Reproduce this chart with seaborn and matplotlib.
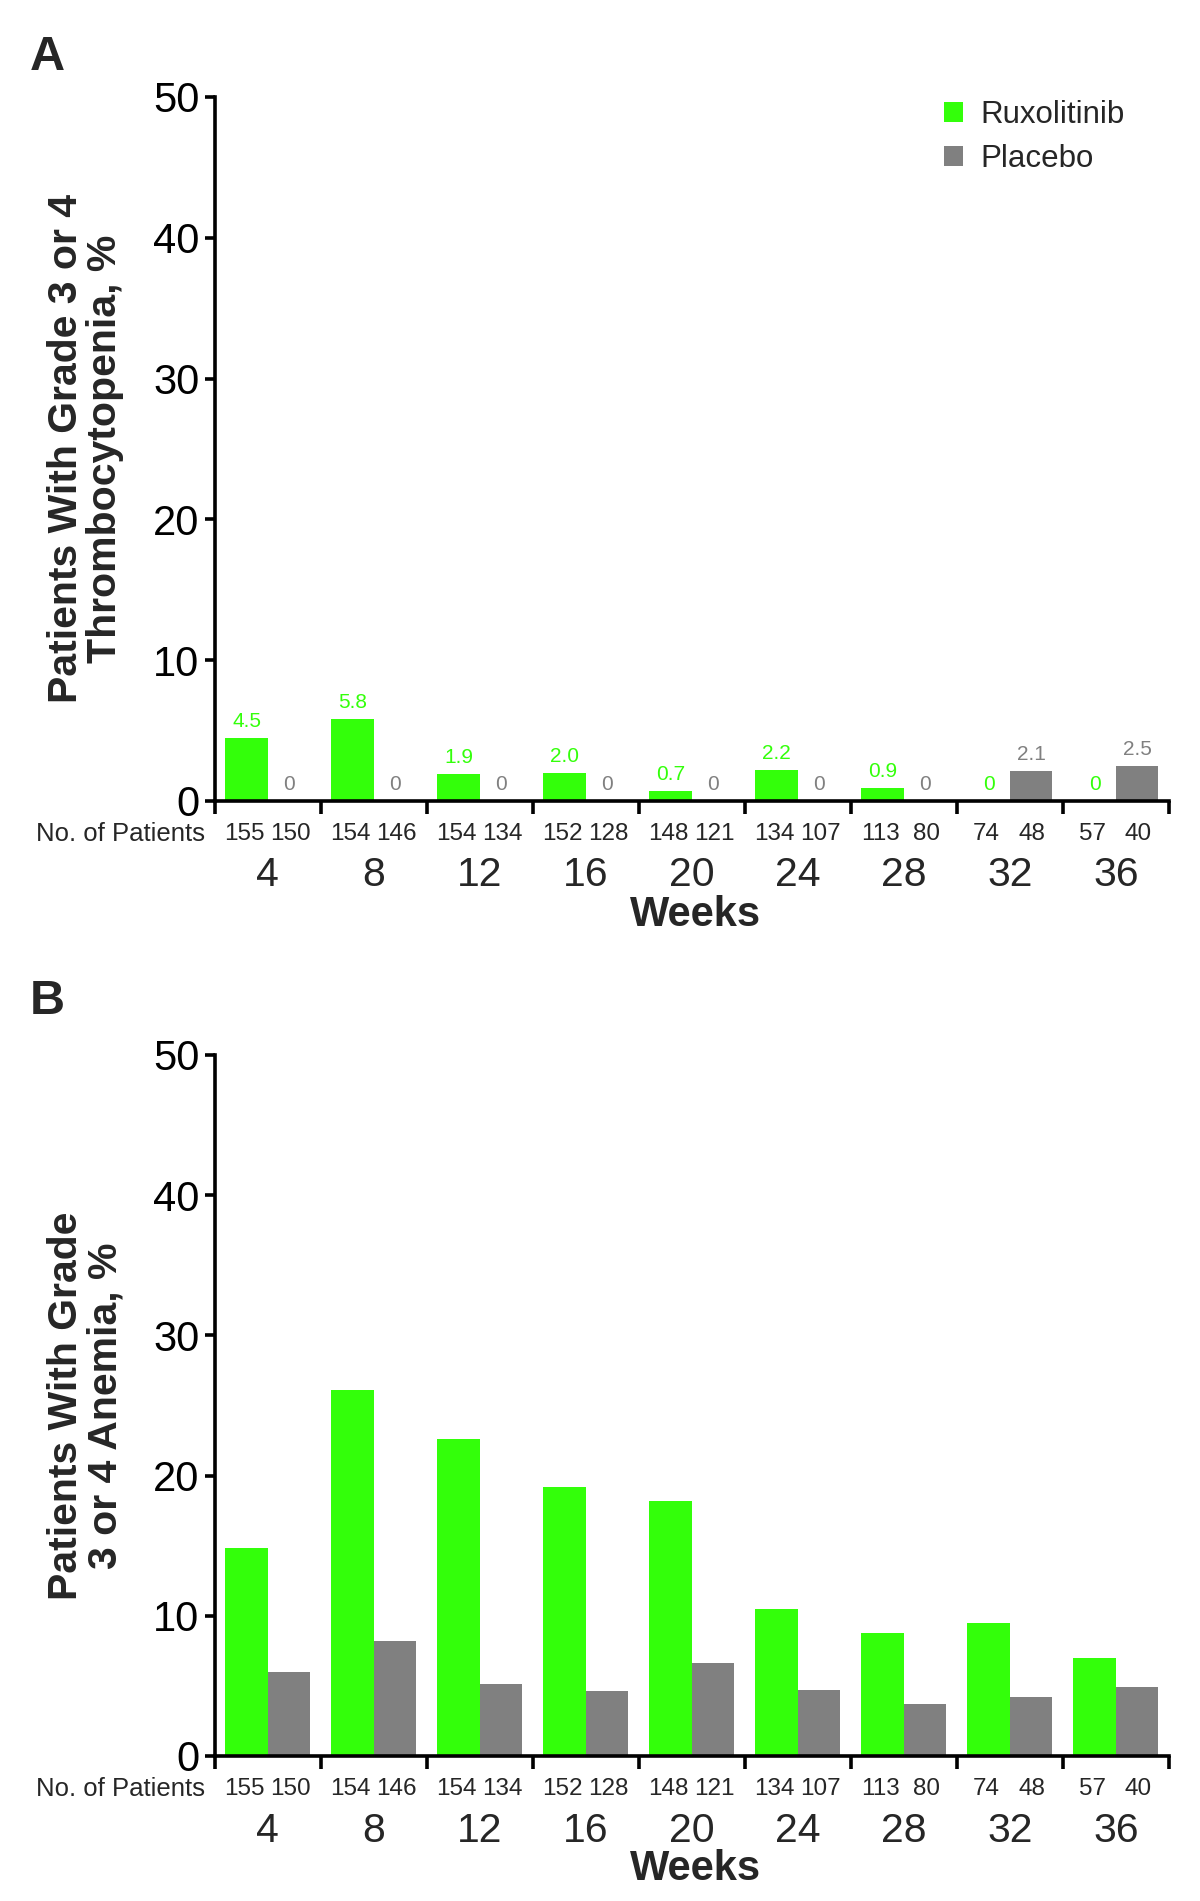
"""
Grade 3/4 thrombocytopenia and anemia by week - ruxolitinib vs placebo
"""

import numpy as np
import pandas as pd
import matplotlib
matplotlib.use('Agg')
import matplotlib.pyplot as plt
import seaborn as sns

# Dados
weeks = ['4', '8', '12', '16', '20', '24', '28', '32', '36']
arms = ['Ruxolitinib', 'Placebo']

n_ruxo = [155, 154, 154, 152, 148, 134, 113, 74, 57]
n_placebo = [150, 146, 134, 128, 121, 107, 80, 48, 40]

thrombo_ruxo = [4.5, 5.8, 1.9, 2.0, 0.7, 2.2, 0.9, 0, 0]
thrombo_placebo = [0, 0, 0, 0, 0, 0, 0, 2.1, 2.5]

anemia_ruxo = [14.8, 26.1, 22.6, 19.2, 18.2, 10.5, 8.8, 9.5, 7.0]
anemia_placebo = [6.0, 8.2, 5.1, 4.6, 6.6, 4.7, 3.7, 4.2, 4.9]

GREEN = '#33FF0A'
GRAY = '#808080'

sns.set_style('ticks')
plt.rcParams['font.family'] = ['Liberation Sans', 'DejaVu Sans']


def make_frame(ruxo, placebo):
    """Monta o dataframe longo para o seaborn."""
    return pd.DataFrame({
        'week': weeks * 2,
        'arm': [arms[0]] * len(weeks) + [arms[1]] * len(weeks),
        'pct': list(ruxo) + list(placebo),
    })


def fmt(v):
    return '0' if v == 0 else f'{v:.1f}'


def draw_panel(ax, ruxo, placebo, ylabel, letter, letter_y,
               show_values=False, show_legend=False):
    df = make_frame(ruxo, placebo)
    sns.barplot(data=df, x='week', y='pct', hue='arm', order=weeks, hue_order=arms,
                palette=[GREEN, GRAY], width=0.8, saturation=1, errorbar=None,
                linewidth=0, legend=show_legend, ax=ax)

    ax.set_ylim(0, 50)
    ax.set_xlim(-0.5, len(weeks) - 0.5)
    ax.set_yticks(np.arange(0, 51, 10))

    # eixos
    sns.despine(ax=ax)
    for side in ['left', 'bottom']:
        ax.spines[side].set_linewidth(2.6)
        ax.spines[side].set_color('black')

    ax.tick_params(axis='y', length=7, width=2.6, labelsize=30, pad=4, colors='black')
    ax.set_xticks(range(len(weeks)))
    ax.set_xticklabels(weeks)
    ax.tick_params(axis='x', which='major', length=0, labelsize=29.5, pad=40)
    ax.set_xticks(np.arange(-0.5, len(weeks), 1), minor=True)
    ax.tick_params(axis='x', which='minor', length=9, width=2.6, direction='out', color='black')

    ax.set_xlabel('Weeks', fontsize=30, fontweight='bold')
    ax.xaxis.set_label_coords(0.504, -0.133)
    ax.set_ylabel(ylabel, fontsize=29.5, fontweight='bold', linespacing=1.05)
    ax.yaxis.set_label_coords(-0.095, 0.5)

    # numero de pacientes abaixo do eixo
    trans = ax.get_xaxis_transform()
    for i in range(len(weeks)):
        ax.annotate(str(n_ruxo[i]), xy=(i - 0.22, 0), xycoords=trans, xytext=(0, -24),
                    textcoords='offset points', ha='center', va='center', fontsize=17.5)
        ax.annotate(str(n_placebo[i]), xy=(i + 0.21, 0), xycoords=trans, xytext=(0, -24),
                    textcoords='offset points', ha='center', va='center', fontsize=17.5)
    ax.annotate('No. of Patients', xy=(-0.5, 0), xycoords=trans, xytext=(-7, -24),
                textcoords='offset points', ha='right', va='center', fontsize=18.5)

    if show_values:
        ax.bar_label(ax.containers[0], labels=[fmt(v) for v in ruxo],
                     color=GREEN, padding=5, fontsize=15)
        ax.bar_label(ax.containers[1], labels=[fmt(v) for v in placebo],
                     color=GRAY, padding=5, fontsize=15)

    if show_legend:
        handles, labels = ax.get_legend_handles_labels()
        ax.legend(handles, labels, loc='upper left', frameon=False, fontsize=22.5,
                  handlelength=0.62, handleheight=0.62, handletextpad=0.55,
                  labelspacing=0.45, borderpad=0, borderaxespad=0,
                  bbox_to_anchor=(944 / 1200, 1 - 100 / 1901),
                  bbox_transform=ax.figure.transFigure)

    ax.figure.text(30 / 1200, letter_y, letter, fontsize=35, fontweight='bold',
                   ha='left', va='center')


def main():
    fig = plt.figure(figsize=(12, 19.01), dpi=100)
    ax_a = fig.add_axes([0.179, 0.5787, 0.795, 0.3703])
    ax_b = fig.add_axes([0.179, 0.0763, 0.795, 0.3688])

    draw_panel(ax_a, thrombo_ruxo, thrombo_placebo,
               'Patients With Grade 3 or 4\nThrombocytopenia, %', 'A', 1 - 57 / 1901,
               show_values=True, show_legend=True)
    draw_panel(ax_b, anemia_ruxo, anemia_placebo,
               'Patients With Grade\n3 or 4 Anemia, %', 'B', 1 - 1001 / 1901)

    fig.savefig('out.png', dpi=100, facecolor='white')


if __name__ == '__main__':
    main()
